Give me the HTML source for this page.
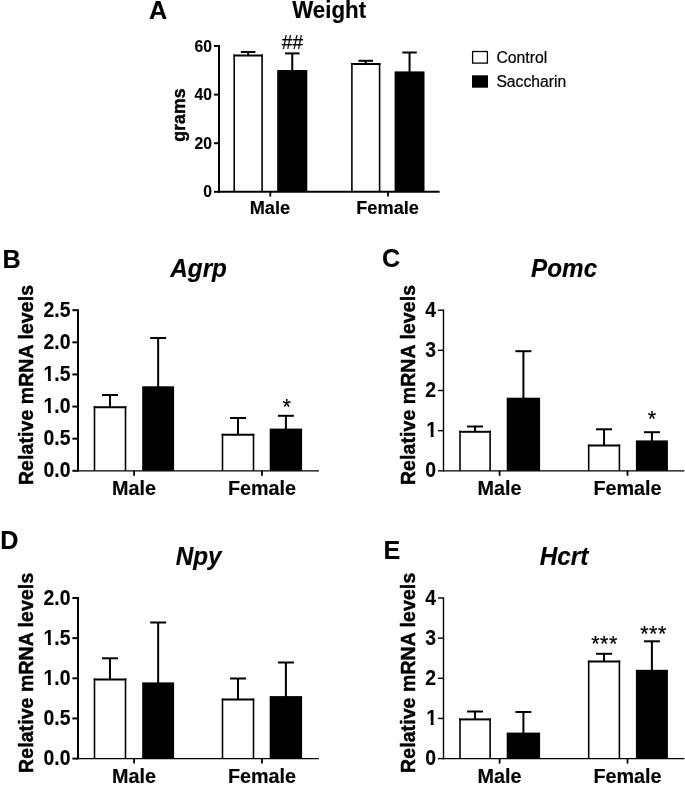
<!DOCTYPE html>
<html lang="en">
<head>
<meta charset="utf-8">
<title>Figure: weight and hypothalamic mRNA levels</title>
<style>
html,body{margin:0;padding:0;background:#ffffff;}
body{width:685px;height:785px;overflow:hidden;}
svg{display:block;filter:blur(0.6px);}
text{font-kerning:normal;stroke:#000;stroke-linejoin:round;}
text.b{stroke-width:0.15px;}
text.y{stroke-width:0.45px;letter-spacing:0.13px;}
text.r{stroke-width:0.2px;}
text.t{stroke-width:0.12px;}
</style>
</head>
<body>
<svg width="685" height="785" viewBox="0 0 685 785" font-family="'Liberation Sans', Arial, Helvetica, sans-serif" fill="#000000" stroke="#000000" stroke-linecap="butt">
<rect x="0" y="0" width="685" height="785" fill="#ffffff" stroke="none"/>
<defs><clipPath id="c1" clipPathUnits="userSpaceOnUse"><path clip-rule="evenodd" d="M-60,-40H40V30H-60Z M-10.77,-3.58H-6.39V1.2H-10.77Z M-3.47,-3.58H-0.09V1.2H-3.47Z"/></clipPath><clipPath id="c1_0" clipPathUnits="userSpaceOnUse"><path clip-rule="evenodd" d="M-60,-40H40V30H-60Z M-26.95,-3.58H-22.57V1.2H-26.95Z M-19.65,-3.58H-16.27V1.2H-19.65Z"/></clipPath><clipPath id="c1_5" clipPathUnits="userSpaceOnUse"><path clip-rule="evenodd" d="M-60,-40H40V30H-60Z M-26.95,-3.58H-22.57V1.2H-26.95Z M-19.65,-3.58H-16.27V1.2H-19.65Z"/></clipPath></defs>
<g>
<g>
<rect x="233.4" y="54.5" width="29.5" height="137.3" fill="#fff" stroke="none"/>
<line x1="234.2" y1="54.5" x2="234.2" y2="191.8" stroke-width="1.6"/>
<line x1="262.1" y1="54.5" x2="262.1" y2="191.8" stroke-width="1.6"/>
<line x1="233.4" y1="55.5" x2="262.9" y2="55.5" stroke-width="2"/>
<rect x="277.2" y="70.05" width="30.1" height="121.75" fill="#000000" stroke="none"/>
<rect x="351.1" y="63" width="29.3" height="128.8" fill="#fff" stroke="none"/>
<line x1="351.9" y1="63" x2="351.9" y2="191.8" stroke-width="1.6"/>
<line x1="379.6" y1="63" x2="379.6" y2="191.8" stroke-width="1.6"/>
<line x1="351.1" y1="64" x2="380.4" y2="64" stroke-width="2"/>
<rect x="394.6" y="71.4" width="29.9" height="120.4" fill="#000000" stroke="none"/>
<line x1="248.15" y1="52" x2="248.15" y2="55.5" stroke-width="2"/>
<line x1="240.9" y1="52" x2="255.4" y2="52" stroke-width="2"/>
<line x1="292.25" y1="53.4" x2="292.25" y2="71.05" stroke-width="2"/>
<line x1="285" y1="53.4" x2="299.5" y2="53.4" stroke-width="2"/>
<line x1="365.75" y1="60.8" x2="365.75" y2="64" stroke-width="2"/>
<line x1="358.5" y1="60.8" x2="373" y2="60.8" stroke-width="2"/>
<line x1="409.55" y1="52.5" x2="409.55" y2="72.4" stroke-width="2"/>
<line x1="402.3" y1="52.5" x2="416.8" y2="52.5" stroke-width="2"/>
<line x1="219" y1="45" x2="219" y2="192.75" stroke-width="2"/>
<line x1="218" y1="191.8" x2="439.6" y2="191.8" stroke-width="1.9"/>
<line x1="214" y1="191.8" x2="219" y2="191.8" stroke-width="2"/>
<text class="t" transform="translate(212 197.4) scale(1 1.035)" font-size="15.7" text-anchor="end" font-weight="bold" font-style="normal">0</text>
<line x1="214" y1="143.2" x2="219" y2="143.2" stroke-width="2"/>
<text class="t" transform="translate(212 148.8) scale(1 1.035)" font-size="15.7" text-anchor="end" font-weight="bold" font-style="normal">20</text>
<line x1="214" y1="94.6" x2="219" y2="94.6" stroke-width="2"/>
<text class="t" transform="translate(212 100.2) scale(1 1.035)" font-size="15.7" text-anchor="end" font-weight="bold" font-style="normal">40</text>
<line x1="214" y1="46" x2="219" y2="46" stroke-width="2"/>
<text class="t" transform="translate(212 51.6) scale(1 1.035)" font-size="15.7" text-anchor="end" font-weight="bold" font-style="normal">60</text>
<line x1="270.3" y1="191.8" x2="270.3" y2="196.6" stroke-width="1.8"/>
<text class="b" transform="translate(269.9 213.9) scale(1 1.035)" font-size="18.2" text-anchor="middle" font-weight="bold" font-style="normal">Male</text>
<line x1="388" y1="191.8" x2="388" y2="196.6" stroke-width="1.8"/>
<text class="b" transform="translate(387.6 213.9) scale(1 1.035)" font-size="18.2" text-anchor="middle" font-weight="bold" font-style="normal">Female</text>
<text class="y" transform="translate(185 115) rotate(-90)" font-size="17.6" text-anchor="middle" font-weight="bold" font-style="normal">grams</text>
<text class="b" transform="translate(329.1 18.3) scale(1 1.035)" font-size="22.3" text-anchor="middle" font-weight="bold" font-style="normal">Weight</text>
<text class="b" transform="translate(148.9 18.8) scale(1 1.035)" font-size="25.2" text-anchor="start" font-weight="bold" font-style="normal">A</text>
<text class="r" transform="translate(292.4 48.6) scale(1 1.035)" font-size="19" text-anchor="middle" font-weight="normal" font-style="normal">##</text>
</g>
<g>
<rect x="93.7" y="406.2" width="32.6" height="64.6" fill="#fff" stroke="none"/>
<line x1="94.5" y1="406.2" x2="94.5" y2="470.8" stroke-width="1.6"/>
<line x1="125.5" y1="406.2" x2="125.5" y2="470.8" stroke-width="1.6"/>
<line x1="93.7" y1="407.2" x2="126.3" y2="407.2" stroke-width="2"/>
<rect x="142.2" y="386.3" width="31.9" height="84.5" fill="#000000" stroke="none"/>
<rect x="221.7" y="433.8" width="32.6" height="37" fill="#fff" stroke="none"/>
<line x1="222.5" y1="433.8" x2="222.5" y2="470.8" stroke-width="1.6"/>
<line x1="253.5" y1="433.8" x2="253.5" y2="470.8" stroke-width="1.6"/>
<line x1="221.7" y1="434.8" x2="254.3" y2="434.8" stroke-width="2"/>
<rect x="269.7" y="428.6" width="32.4" height="42.2" fill="#000000" stroke="none"/>
<line x1="110" y1="395" x2="110" y2="407.2" stroke-width="2"/>
<line x1="102" y1="395" x2="118" y2="395" stroke-width="2"/>
<line x1="158.15" y1="338" x2="158.15" y2="387.3" stroke-width="2"/>
<line x1="150.15" y1="338" x2="166.15" y2="338" stroke-width="2"/>
<line x1="238" y1="418" x2="238" y2="434.8" stroke-width="2"/>
<line x1="230" y1="418" x2="246" y2="418" stroke-width="2"/>
<line x1="285.9" y1="415.8" x2="285.9" y2="429.6" stroke-width="2"/>
<line x1="277.9" y1="415.8" x2="293.9" y2="415.8" stroke-width="2"/>
<line x1="78" y1="309.2" x2="78" y2="471.45" stroke-width="2"/>
<line x1="77" y1="470.8" x2="318.9" y2="470.8" stroke-width="1.3"/>
<line x1="72.4" y1="470.8" x2="78" y2="470.8" stroke-width="2"/>
<text class="t" transform="translate(70.5 477.4) scale(1 1.120)" font-size="19.4" text-anchor="end" font-weight="bold" font-style="normal">0.0</text>
<line x1="72.4" y1="438.68" x2="78" y2="438.68" stroke-width="2"/>
<text class="t" transform="translate(70.5 445.28) scale(1 1.120)" font-size="19.4" text-anchor="end" font-weight="bold" font-style="normal">0.5</text>
<line x1="72.4" y1="406.56" x2="78" y2="406.56" stroke-width="2"/>
<text class="t" transform="translate(70.5 413.16) scale(1 1.120)" font-size="19.4" text-anchor="start" font-weight="bold" font-style="normal" clip-path="url(#c1_0)"><tspan x="-26.97">1</tspan><tspan x="-16.18">.0</tspan></text>
<line x1="72.4" y1="374.44" x2="78" y2="374.44" stroke-width="2"/>
<text class="t" transform="translate(70.5 381.04) scale(1 1.120)" font-size="19.4" text-anchor="start" font-weight="bold" font-style="normal" clip-path="url(#c1_5)"><tspan x="-26.97">1</tspan><tspan x="-16.18">.5</tspan></text>
<line x1="72.4" y1="342.32" x2="78" y2="342.32" stroke-width="2"/>
<text class="t" transform="translate(70.5 348.92) scale(1 1.120)" font-size="19.4" text-anchor="end" font-weight="bold" font-style="normal">2.0</text>
<line x1="72.4" y1="310.2" x2="78" y2="310.2" stroke-width="2"/>
<text class="t" transform="translate(70.5 316.8) scale(1 1.120)" font-size="19.4" text-anchor="end" font-weight="bold" font-style="normal">2.5</text>
<line x1="134.1" y1="470.8" x2="134.1" y2="475.8" stroke-width="1.8"/>
<text class="b" transform="translate(134.1 494.8) scale(1 1.035)" font-size="19.8" text-anchor="middle" font-weight="bold" font-style="normal">Male</text>
<line x1="262" y1="470.8" x2="262" y2="475.8" stroke-width="1.8"/>
<text class="b" transform="translate(262 494.8) scale(1 1.035)" font-size="19.8" text-anchor="middle" font-weight="bold" font-style="normal">Female</text>
<text class="y" transform="translate(33.2 385) rotate(-90)" font-size="19.4" text-anchor="middle" font-weight="bold" font-style="normal">Relative mRNA levels</text>
<text class="b" transform="translate(198.6 277.1) scale(1 1.035)" font-size="24.3" text-anchor="middle" font-weight="bold" font-style="italic">Agrp</text>
<text class="b" transform="translate(2.6 268.4) scale(1 1.035)" font-size="25.2" text-anchor="start" font-weight="bold" font-style="normal">B</text>
<text class="r" transform="translate(286.6 413.6) scale(1 1.035)" font-size="21.5" text-anchor="middle" font-weight="normal" font-style="normal">*</text>
</g>
<g>
<rect x="459.2" y="430.8" width="31.7" height="40" fill="#fff" stroke="none"/>
<line x1="460" y1="430.8" x2="460" y2="470.8" stroke-width="1.6"/>
<line x1="490.1" y1="430.8" x2="490.1" y2="470.8" stroke-width="1.6"/>
<line x1="459.2" y1="431.8" x2="490.9" y2="431.8" stroke-width="2"/>
<rect x="506.7" y="397.7" width="33.4" height="73.1" fill="#000000" stroke="none"/>
<rect x="587.9" y="444.6" width="32.3" height="26.2" fill="#fff" stroke="none"/>
<line x1="588.7" y1="444.6" x2="588.7" y2="470.8" stroke-width="1.6"/>
<line x1="619.4" y1="444.6" x2="619.4" y2="470.8" stroke-width="1.6"/>
<line x1="587.9" y1="445.6" x2="620.2" y2="445.6" stroke-width="2"/>
<rect x="635.9" y="440.4" width="32" height="30.4" fill="#000000" stroke="none"/>
<line x1="475.05" y1="426.5" x2="475.05" y2="431.8" stroke-width="2"/>
<line x1="467.05" y1="426.5" x2="483.05" y2="426.5" stroke-width="2"/>
<line x1="523.4" y1="351.2" x2="523.4" y2="398.7" stroke-width="2"/>
<line x1="515.4" y1="351.2" x2="531.4" y2="351.2" stroke-width="2"/>
<line x1="604.05" y1="429.3" x2="604.05" y2="445.6" stroke-width="2"/>
<line x1="596.05" y1="429.3" x2="612.05" y2="429.3" stroke-width="2"/>
<line x1="651.9" y1="432.2" x2="651.9" y2="441.4" stroke-width="2"/>
<line x1="643.9" y1="432.2" x2="659.9" y2="432.2" stroke-width="2"/>
<line x1="443.5" y1="309.5" x2="443.5" y2="471.45" stroke-width="1.4"/>
<line x1="442.8" y1="470.8" x2="684.4" y2="470.8" stroke-width="1.3"/>
<line x1="437.9" y1="470.8" x2="443.5" y2="470.8" stroke-width="1.4"/>
<text class="t" transform="translate(436 477.4) scale(1 1.120)" font-size="19.4" text-anchor="end" font-weight="bold" font-style="normal">0</text>
<line x1="437.9" y1="430.65" x2="443.5" y2="430.65" stroke-width="1.4"/>
<text class="t" transform="translate(437.1 437.25) scale(1 1.120)" font-size="19.4" text-anchor="end" font-weight="bold" font-style="normal" clip-path="url(#c1)">1</text>
<line x1="437.9" y1="390.5" x2="443.5" y2="390.5" stroke-width="1.4"/>
<text class="t" transform="translate(436 397.1) scale(1 1.120)" font-size="19.4" text-anchor="end" font-weight="bold" font-style="normal">2</text>
<line x1="437.9" y1="350.35" x2="443.5" y2="350.35" stroke-width="1.4"/>
<text class="t" transform="translate(436 356.95) scale(1 1.120)" font-size="19.4" text-anchor="end" font-weight="bold" font-style="normal">3</text>
<line x1="437.9" y1="310.2" x2="443.5" y2="310.2" stroke-width="1.4"/>
<text class="t" transform="translate(436 316.8) scale(1 1.120)" font-size="19.4" text-anchor="end" font-weight="bold" font-style="normal">4</text>
<line x1="499.6" y1="470.8" x2="499.6" y2="475.8" stroke-width="1.8"/>
<text class="b" transform="translate(499.6 494.8) scale(1 1.035)" font-size="19.8" text-anchor="middle" font-weight="bold" font-style="normal">Male</text>
<line x1="627.5" y1="470.8" x2="627.5" y2="475.8" stroke-width="1.8"/>
<text class="b" transform="translate(627.5 494.8) scale(1 1.035)" font-size="19.8" text-anchor="middle" font-weight="bold" font-style="normal">Female</text>
<text class="y" transform="translate(415.3 385) rotate(-90)" font-size="19.4" text-anchor="middle" font-weight="bold" font-style="normal">Relative mRNA levels</text>
<text class="b" transform="translate(564.1 277.1) scale(1 1.035)" font-size="24.3" text-anchor="middle" font-weight="bold" font-style="italic">Pomc</text>
<text class="b" transform="translate(381.9 266.6) scale(1 1.035)" font-size="25.2" text-anchor="start" font-weight="bold" font-style="normal">C</text>
<text class="r" transform="translate(652 425.6) scale(1 1.035)" font-size="21.5" text-anchor="middle" font-weight="normal" font-style="normal">*</text>
</g>
<g>
<rect x="93.7" y="678.4" width="32.6" height="80.2" fill="#fff" stroke="none"/>
<line x1="94.5" y1="678.4" x2="94.5" y2="758.6" stroke-width="1.6"/>
<line x1="125.5" y1="678.4" x2="125.5" y2="758.6" stroke-width="1.6"/>
<line x1="93.7" y1="679.4" x2="126.3" y2="679.4" stroke-width="2"/>
<rect x="142.2" y="682.4" width="31.9" height="76.2" fill="#000000" stroke="none"/>
<rect x="221.7" y="698.6" width="32.6" height="60" fill="#fff" stroke="none"/>
<line x1="222.5" y1="698.6" x2="222.5" y2="758.6" stroke-width="1.6"/>
<line x1="253.5" y1="698.6" x2="253.5" y2="758.6" stroke-width="1.6"/>
<line x1="221.7" y1="699.6" x2="254.3" y2="699.6" stroke-width="2"/>
<rect x="269.7" y="696.1" width="32.4" height="62.5" fill="#000000" stroke="none"/>
<line x1="110" y1="658.3" x2="110" y2="679.4" stroke-width="2"/>
<line x1="102" y1="658.3" x2="118" y2="658.3" stroke-width="2"/>
<line x1="158.15" y1="622.5" x2="158.15" y2="683.4" stroke-width="2"/>
<line x1="150.15" y1="622.5" x2="166.15" y2="622.5" stroke-width="2"/>
<line x1="238" y1="678.5" x2="238" y2="699.6" stroke-width="2"/>
<line x1="230" y1="678.5" x2="246" y2="678.5" stroke-width="2"/>
<line x1="285.9" y1="662.5" x2="285.9" y2="697.1" stroke-width="2"/>
<line x1="277.9" y1="662.5" x2="293.9" y2="662.5" stroke-width="2"/>
<line x1="78" y1="597" x2="78" y2="759.25" stroke-width="2"/>
<line x1="77" y1="758.6" x2="318.9" y2="758.6" stroke-width="1.3"/>
<line x1="72.4" y1="758.6" x2="78" y2="758.6" stroke-width="2"/>
<text class="t" transform="translate(70.5 765.2) scale(1 1.120)" font-size="19.4" text-anchor="end" font-weight="bold" font-style="normal">0.0</text>
<line x1="72.4" y1="718.45" x2="78" y2="718.45" stroke-width="2"/>
<text class="t" transform="translate(70.5 725.05) scale(1 1.120)" font-size="19.4" text-anchor="end" font-weight="bold" font-style="normal">0.5</text>
<line x1="72.4" y1="678.3" x2="78" y2="678.3" stroke-width="2"/>
<text class="t" transform="translate(70.5 684.9) scale(1 1.120)" font-size="19.4" text-anchor="start" font-weight="bold" font-style="normal" clip-path="url(#c1_0)"><tspan x="-26.97">1</tspan><tspan x="-16.18">.0</tspan></text>
<line x1="72.4" y1="638.15" x2="78" y2="638.15" stroke-width="2"/>
<text class="t" transform="translate(70.5 644.75) scale(1 1.120)" font-size="19.4" text-anchor="start" font-weight="bold" font-style="normal" clip-path="url(#c1_5)"><tspan x="-26.97">1</tspan><tspan x="-16.18">.5</tspan></text>
<line x1="72.4" y1="598" x2="78" y2="598" stroke-width="2"/>
<text class="t" transform="translate(70.5 604.6) scale(1 1.120)" font-size="19.4" text-anchor="end" font-weight="bold" font-style="normal">2.0</text>
<line x1="134.1" y1="758.6" x2="134.1" y2="763.6" stroke-width="1.8"/>
<text class="b" transform="translate(134.1 782.6) scale(1 1.035)" font-size="19.8" text-anchor="middle" font-weight="bold" font-style="normal">Male</text>
<line x1="262" y1="758.6" x2="262" y2="763.6" stroke-width="1.8"/>
<text class="b" transform="translate(262 782.6) scale(1 1.035)" font-size="19.8" text-anchor="middle" font-weight="bold" font-style="normal">Female</text>
<text class="y" transform="translate(33.2 672.8) rotate(-90)" font-size="19.4" text-anchor="middle" font-weight="bold" font-style="normal">Relative mRNA levels</text>
<text class="b" transform="translate(198.6 564.9) scale(1 1.035)" font-size="24.3" text-anchor="middle" font-weight="bold" font-style="italic">Npy</text>
<text class="b" transform="translate(0.2 548.9) scale(1 1.035)" font-size="25.2" text-anchor="start" font-weight="bold" font-style="normal">D</text>
</g>
<g>
<rect x="459.2" y="718.4" width="31.7" height="40.2" fill="#fff" stroke="none"/>
<line x1="460" y1="718.4" x2="460" y2="758.6" stroke-width="1.6"/>
<line x1="490.1" y1="718.4" x2="490.1" y2="758.6" stroke-width="1.6"/>
<line x1="459.2" y1="719.4" x2="490.9" y2="719.4" stroke-width="2"/>
<rect x="506.7" y="732.6" width="33.4" height="26" fill="#000000" stroke="none"/>
<rect x="587.9" y="660.6" width="32.3" height="98" fill="#fff" stroke="none"/>
<line x1="588.7" y1="660.6" x2="588.7" y2="758.6" stroke-width="1.6"/>
<line x1="619.4" y1="660.6" x2="619.4" y2="758.6" stroke-width="1.6"/>
<line x1="587.9" y1="661.6" x2="620.2" y2="661.6" stroke-width="2"/>
<rect x="635.9" y="669.8" width="32" height="88.8" fill="#000000" stroke="none"/>
<line x1="475.05" y1="711.5" x2="475.05" y2="719.4" stroke-width="2"/>
<line x1="467.05" y1="711.5" x2="483.05" y2="711.5" stroke-width="2"/>
<line x1="523.4" y1="712" x2="523.4" y2="733.6" stroke-width="2"/>
<line x1="515.4" y1="712" x2="531.4" y2="712" stroke-width="2"/>
<line x1="604.05" y1="653.8" x2="604.05" y2="661.6" stroke-width="2"/>
<line x1="596.05" y1="653.8" x2="612.05" y2="653.8" stroke-width="2"/>
<line x1="651.9" y1="641.3" x2="651.9" y2="670.8" stroke-width="2"/>
<line x1="643.9" y1="641.3" x2="659.9" y2="641.3" stroke-width="2"/>
<line x1="443.5" y1="597.3" x2="443.5" y2="759.25" stroke-width="1.4"/>
<line x1="442.8" y1="758.6" x2="684.4" y2="758.6" stroke-width="1.3"/>
<line x1="437.9" y1="758.6" x2="443.5" y2="758.6" stroke-width="1.4"/>
<text class="t" transform="translate(436 765.2) scale(1 1.120)" font-size="19.4" text-anchor="end" font-weight="bold" font-style="normal">0</text>
<line x1="437.9" y1="718.45" x2="443.5" y2="718.45" stroke-width="1.4"/>
<text class="t" transform="translate(437.1 725.05) scale(1 1.120)" font-size="19.4" text-anchor="end" font-weight="bold" font-style="normal" clip-path="url(#c1)">1</text>
<line x1="437.9" y1="678.3" x2="443.5" y2="678.3" stroke-width="1.4"/>
<text class="t" transform="translate(436 684.9) scale(1 1.120)" font-size="19.4" text-anchor="end" font-weight="bold" font-style="normal">2</text>
<line x1="437.9" y1="638.15" x2="443.5" y2="638.15" stroke-width="1.4"/>
<text class="t" transform="translate(436 644.75) scale(1 1.120)" font-size="19.4" text-anchor="end" font-weight="bold" font-style="normal">3</text>
<line x1="437.9" y1="598" x2="443.5" y2="598" stroke-width="1.4"/>
<text class="t" transform="translate(436 604.6) scale(1 1.120)" font-size="19.4" text-anchor="end" font-weight="bold" font-style="normal">4</text>
<line x1="499.6" y1="758.6" x2="499.6" y2="763.6" stroke-width="1.8"/>
<text class="b" transform="translate(499.6 782.6) scale(1 1.035)" font-size="19.8" text-anchor="middle" font-weight="bold" font-style="normal">Male</text>
<line x1="627.5" y1="758.6" x2="627.5" y2="763.6" stroke-width="1.8"/>
<text class="b" transform="translate(627.5 782.6) scale(1 1.035)" font-size="19.8" text-anchor="middle" font-weight="bold" font-style="normal">Female</text>
<text class="y" transform="translate(415.3 672.8) rotate(-90)" font-size="19.4" text-anchor="middle" font-weight="bold" font-style="normal">Relative mRNA levels</text>
<text class="b" transform="translate(564.1 564.9) scale(1 1.035)" font-size="24.3" text-anchor="middle" font-weight="bold" font-style="italic">Hcrt</text>
<text class="b" transform="translate(383.4 558.8) scale(1 1.035)" font-size="25.2" text-anchor="start" font-weight="bold" font-style="normal">E</text>
<text class="r" transform="translate(604.6 650.6) scale(1 1.035)" font-size="21.5" text-anchor="middle" font-weight="normal" font-style="normal" letter-spacing="0.6">***</text>
<text class="r" transform="translate(653.6 640.8) scale(1 1.035)" font-size="21.5" text-anchor="middle" font-weight="normal" font-style="normal" letter-spacing="0.6">***</text>
</g>
<g>
<rect x="472.6" y="51.5" width="14.8" height="11.6" fill="#fff" stroke-width="1.3"/>
<rect x="472" y="75.3" width="16" height="12.4" fill="#000000" stroke="none"/>
<text class="r" transform="translate(496.4 62.8) scale(1 1.035)" font-size="15.8" text-anchor="start" font-weight="normal" font-style="normal">Control</text>
<text class="r" transform="translate(496.4 87) scale(1 1.035)" font-size="15.7" text-anchor="start" font-weight="normal" font-style="normal">Saccharin</text>
</g>
</g>
</svg>
</body>
</html>
